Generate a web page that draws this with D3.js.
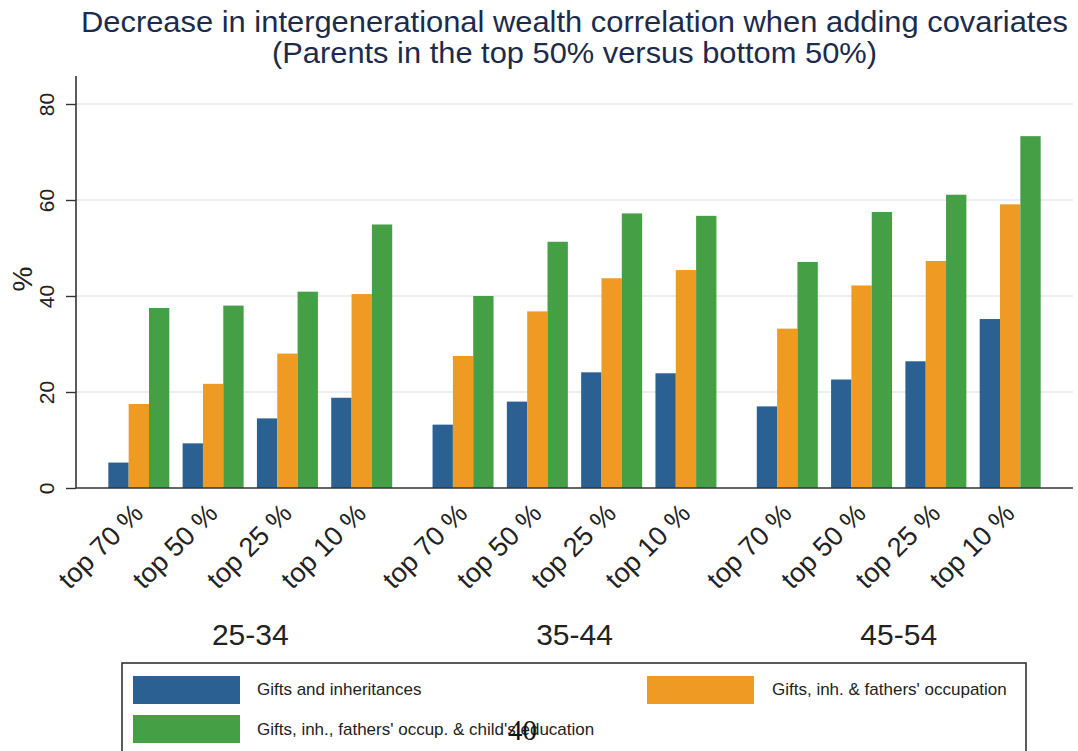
<!DOCTYPE html>
<html>
<head>
<meta charset="utf-8">
<script src="https://cdn.jsdelivr.net/npm/d3@7"></script>
<style>
  html, body { margin: 0; padding: 0; background: #fff; }
  svg { display: block; font-family: "Liberation Sans", Arial, sans-serif; }
</style>
</head>
<body>
<svg id="chart" width="1078" height="751"></svg>
<script>
// ---------- data ----------
const titleLines = [
  "Decrease in intergenerational wealth correlation when adding covariates",
  "(Parents in the top 50% versus bottom 50%)"
];
const ageGroups = ["25-34", "35-44", "45-54"];
const categories = ["top 70 %", "top 50 %", "top 25 %", "top 10 %"];
const seriesNames = [
  "Gifts and inheritances",
  "Gifts, inh. & fathers' occupation",
  "Gifts, inh., fathers' occup. & child's education"
];
// values ordered by age group, then category
const giftsInh      = [5.3, 9.3, 14.5, 18.8,  13.2, 18.0, 24.1, 23.9,  17.0, 22.6, 26.4, 35.2];
const giftsOcc      = [17.5, 21.7, 28.0, 40.4, 27.5, 36.8, 43.7, 45.4, 33.2, 42.2, 47.3, 59.1];
const giftsOccEdu   = [37.5, 38.0, 40.9, 54.9, 40.0, 51.3, 57.2, 56.7, 47.1, 57.5, 61.1, 73.3];
const yTicks = [0, 20, 40, 60, 80];
const colors = ["#2b6092", "#ef9a23", "#449f45"];

// ---------- layout ----------
const svg = d3.select("#chart");
const plotL = 76, plotR = 1073, plotTop = 76, plotBottom = 488;

const y = d3.scaleLinear().domain([0, 80]).range([488, 104]);
const xGroup = d3.scaleBand().domain(ageGroups).range([plotL, plotR])
  .paddingInner(0.1244).paddingOuter(0.0997);
const xCat = d3.scaleBand().domain(categories).range([0, xGroup.bandwidth()])
  .paddingInner(0.179).paddingOuter(0);
const xSer = d3.scaleBand().domain(seriesNames).range([0, xCat.bandwidth()]).padding(0);

const seriesValues = [giftsInh, giftsOcc, giftsOccEdu];
const rows = [];
ageGroups.forEach((g, gi) => {
  categories.forEach((c, ci) => {
    seriesNames.forEach((s, si) => {
      rows.push({ g, c, s, si, v: seriesValues[si][gi * categories.length + ci] });
    });
  });
});

// ---------- title ----------
svg.append("text").attr("x", 574.5).attr("y", 32).attr("text-anchor", "middle")
  .attr("font-size", 30).attr("fill", "#1c2b4b")
  .attr("textLength", 987).attr("lengthAdjust", "spacingAndGlyphs")
  .text(titleLines[0]);
svg.append("text").attr("x", 574.5).attr("y", 63).attr("text-anchor", "middle")
  .attr("font-size", 30).attr("fill", "#1c2b4b")
  .attr("textLength", 605).attr("lengthAdjust", "spacingAndGlyphs")
  .text(titleLines[1]);

// ---------- gridlines ----------
svg.append("g").selectAll("line").data(yTicks.filter(d => d > 0)).join("line")
  .attr("x1", plotL).attr("x2", plotR)
  .attr("y1", d => y(d)).attr("y2", d => y(d))
  .attr("stroke", "#e6eaee").attr("stroke-width", 1.6);

// ---------- bars ----------
svg.append("g").selectAll("rect").data(rows).join("rect")
  .attr("x", d => xGroup(d.g) + xCat(d.c) + xSer(d.s))
  .attr("width", xSer.bandwidth())
  .attr("y", d => y(d.v))
  .attr("height", d => y(0) - y(d.v))
  .attr("fill", d => colors[d.si]);

// ---------- y axis ----------
const yAxis = svg.append("g").attr("transform", `translate(${plotL},0)`)
  .call(d3.axisLeft(y).tickValues(yTicks).tickSize(10).tickSizeOuter(0));
yAxis.select(".domain").attr("d", `M0,${plotTop}V${plotBottom}`)
  .attr("stroke", "#333").attr("stroke-width", 1.6);
yAxis.selectAll(".tick line").attr("stroke", "#333").attr("stroke-width", 1.4);
yAxis.selectAll(".tick text")
  .attr("x", 0).attr("dy", 0).attr("text-anchor", "middle")
  .attr("transform", "translate(-22,0) rotate(-90)")
  .attr("font-size", 21).attr("fill", "#222")
  .attr("font-family", "Liberation Sans, Arial, sans-serif");

svg.append("text").attr("transform", "translate(32,279) rotate(-90)")
  .attr("text-anchor", "middle").attr("font-size", 28).attr("fill", "#222")
  .text("%");

// ---------- x axis ----------
svg.append("line").attr("x1", plotL).attr("x2", plotR)
  .attr("y1", plotBottom).attr("y2", plotBottom)
  .attr("stroke", "#333").attr("stroke-width", 1.6);

ageGroups.forEach(g => {
  const ax = svg.append("g").attr("transform", `translate(${xGroup(g)},${plotBottom})`)
    .call(d3.axisBottom(xCat).tickSize(0));
  ax.select(".domain").remove();
  ax.selectAll(".tick text")
    .attr("y", 0).attr("dy", 0).attr("text-anchor", "end")
    .attr("transform", "translate(6,27) rotate(-45)")
    .attr("font-size", 27).attr("fill", "#222")
    .attr("font-family", "Liberation Sans, Arial, sans-serif");
  svg.append("text").attr("x", xGroup(g) + xGroup.bandwidth() / 2).attr("y", 645)
    .attr("text-anchor", "middle").attr("font-size", 30).attr("fill", "#222")
    .text(g);
});

// ---------- legend ----------
svg.append("rect").attr("x", 122).attr("y", 663).attr("width", 904).attr("height", 120)
  .attr("fill", "#fff").attr("stroke", "#333").attr("stroke-width", 1.6);
const legendPos = [
  { sx: 133, sy: 676, tx: 257, ty: 695 },
  { sx: 647, sy: 676, tx: 772, ty: 695 },
  { sx: 133, sy: 715, tx: 257, ty: 735 }
];
seriesNames.forEach((s, i) => {
  const p = legendPos[i];
  svg.append("rect").attr("x", p.sx).attr("y", p.sy).attr("width", 107).attr("height", 28)
    .attr("fill", colors[i]);
  svg.append("text").attr("x", p.tx).attr("y", p.ty).attr("font-size", 17)
    .attr("fill", "#222").text(s);
});

// stray page number overlay present in the source image
svg.append("text").attr("x", 508).attr("y", 740)
  .attr("font-family", "Liberation Serif, Times New Roman, serif")
  .attr("font-size", 29).attr("fill", "#111").text("40");
</script>
</body>
</html>
